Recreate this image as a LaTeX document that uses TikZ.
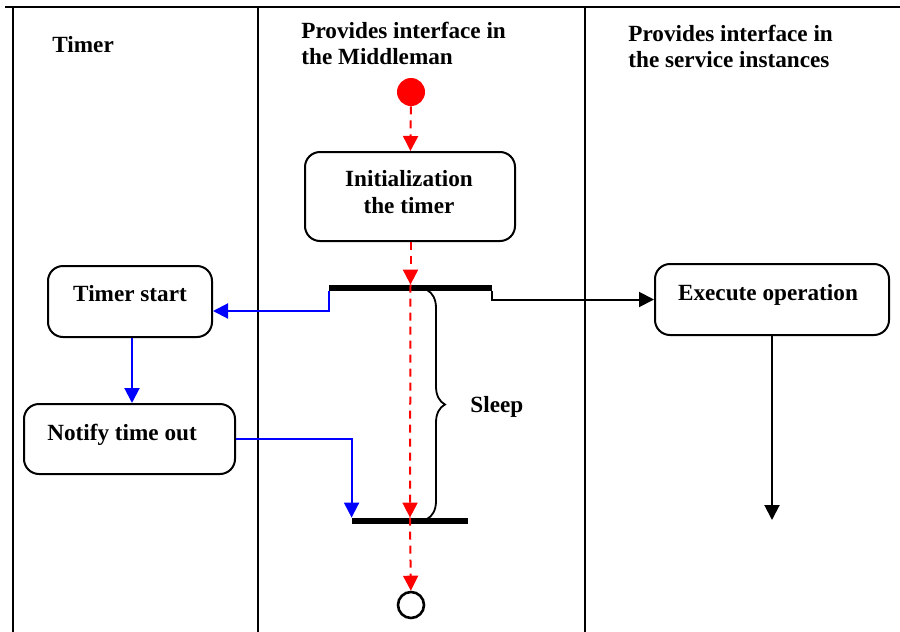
\documentclass[tikz,border=0pt]{standalone}
\usepackage{fontspec}
\setmainfont{Liberation Serif}
\usetikzlibrary{arrows.meta,decorations.pathreplacing}

\begin{document}
\begin{tikzpicture}[x=0.5pt,y=-0.5pt,
  lane/.style={line width=1pt},
  txt/.style={font=\fontsize{11.6}{13.4}\selectfont\bfseries, inner sep=0pt},
  box/.style={draw, line width=1pt, rounded corners=7.5pt, inner sep=0pt},
  bar/.style={fill=black, inner sep=0pt, minimum height=3pt},
  tip/.style={-{Triangle[length=7.5pt,width=7.5pt]}},
  flow/.style={tip, red, line width=1pt, dash pattern=on 4pt off 3pt},
  call/.style={tip, blue, line width=1pt},
  plain/.style={tip, black, line width=1pt}
]
\useasboundingbox (0,0) rectangle (900,632);

% swimlane frame
\draw[lane] (5,7) -- (900,7);
\draw[lane] (13,7) -- (13,632);
\draw[lane] (258,7) -- (258,632);
\draw[lane] (585,7) -- (585,632);

% lane headings
\node[txt, anchor=base west] (h1) at (52,52) {Timer};
\node[txt, anchor=base west] (h2) at (301,38)
  {\begin{tabular}[t]{@{}l@{}}Provides interface in\\the Middleman\end{tabular}};
\node[txt, anchor=base west] (h3) at (628,41)
  {\begin{tabular}[t]{@{}l@{}}Provides interface in\\the service instances\end{tabular}};

% start and end states
\node[circle, fill=red, inner sep=0pt, minimum size=14pt] (start) at (411,92) {};
\node[circle, draw, line width=1.3pt, inner sep=0pt, minimum size=13pt] (stop) at (411,605) {};

% activities
\node[box, minimum width=105pt, minimum height=44.5pt] (init) at (410,196.5) {};
\node[txt, align=center, anchor=base] (initT) at (409,213) {Initialization\\the timer};

\node[box, minimum width=82pt, minimum height=35.5pt] (ts) at (130,301.5) {};
\node[txt, anchor=base] (tsT) at (130,301) {Timer start};

\node[box, minimum width=105.5pt, minimum height=35pt] (nt) at (129.5,439) {};
\node[txt, anchor=base] (ntT) at (122,440) {Notify time out};

\node[box, minimum width=117pt, minimum height=35.5pt] (ex) at (772,299.5) {};
\node[txt, anchor=base] (exT) at (768,300) {Execute operation};

% fork and join bars
\node[bar, minimum width=81.5pt] (fork) at (410.5,288) {};
\node[bar, minimum width=58pt] (join) at (410,521) {};

% sleep interval
\draw[line width=0.9pt, decorate, decoration={brace, amplitude=9pt}]
  (427,290) -- (427,519);
\node[txt, anchor=base west] (sleep) at (470,412) {Sleep};

% control flow of the middleman
\draw[flow] (start) -- (init);
\draw[flow] (init.south -| fork) -- (fork.north);
\draw[flow] (fork.north) -- (join.north);
\draw[flow] (join.north) -- (stop);

% calls to the timer
\draw[call] (fork.south west) |- ([yshift=-4.75pt]ts.east);
\draw[call] ([xshift=1pt]ts.south) -- ([xshift=1pt]ts.south |- nt.north);
\draw[call] (nt.east) -| (join.north west);

% call to the service instance
\coordinate (exEnd) at (772,520);
\draw[plain] (fork.south east) |- (ex.west);
\draw[plain] (ex.south) -- (exEnd);
\end{tikzpicture}
\end{document}
